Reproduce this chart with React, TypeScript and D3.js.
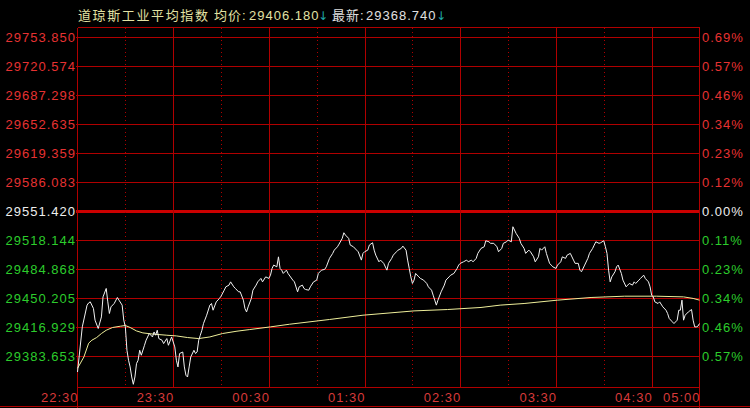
import React from "react";
import * as d3 from "d3";

const W = 750;
const H = 408;
const PREV_CLOSE = 29551.42;
const STEP = 33.738;

const leftLabels = ["29753.850","29720.574","29687.298","29652.635","29619.359","29586.083","29551.420","29518.144","29484.868","29450.205","29416.929","29383.653"];
const rightLabels = ["0.69%","0.57%","0.46%","0.34%","0.23%","0.12%","0.00%","0.11%","0.23%","0.34%","0.46%","0.57%"];
const timeLabels = ["22:30","23:30","00:30","01:30","02:30","03:30","04:30","05:00"];
const timeLabelMinutes = [0, 60, 120, 180, 240, 300, 360, 390];
const solidMinutes = [60, 120, 180, 240, 300, 360];
const dottedMinutes = [30, 90, 150, 210, 270, 330];

const priceMinutes = [
  0,3,6,7,8,10,11,13,15,16,18,19,20,21,23,25,26,28,29,30,31,32,33,34,35,36,37,38,39,40,42,43,45,47,48,49,50,51,53,54,56,57,59,61,62,63,64,66,67,68,69,70,71,73,74,75,76,77,78,79,81,83,84,85,87,89,90,92,93,95,96,98,99,101,102,104,105,106,107,109,110,112,113,115,116,118,120,121,122,123,125,126,127,128,129,131,132,
  135,136,138,139,141,142,143,145,146,148,150,151,153,155,156,158,160,161,163,164,166,167,168,170,171,173,175,176,178,179,180,182,183,185,186,187,189,190,192,194,195,197,198,200,201,203,204,206,207,208,209,210,211,212,214,215,217,219,220,222,223,224,225,226,228,230,231,233,234,236,238,239,240,242,244,245,247,248,250,251,253,255,256,258,259,
  261,263,264,266,267,269,270,272,273,275,277,278,280,281,283,284,286,287,289,290,291,293,294,296,297,298,300,301,303,304,306,307,309,311,312,314,315,316,318,320,321,323,324,325,327,328,330,331,332,333,334,335,337,338,339,341,342,344,345,346,348,349,350,352,353,355,356,358,359,360,361,362,364,365,367,369,370,371,373,374,376,377,378,379,380,381,383,385,386,387,388,389,390
];
const priceValues = [
  29364.1,29416.6,29441.9,29444.5,29445.7,29438.0,29424.4,29414.7,29428.2,29451.5,29461.3,29445.7,29432.2,29439.9,29443.8,29450.8,29447.7,29441.9,29424.4,29416.6,29389.4,29377.8,29370.0,29358.3,29349.8,29358.3,29373.9,29377.8,29389.4,29383.6,29395.2,29401.1,29408.9,29404.9,29410.7,29406.9,29412.7,29403.0,29401.1,29397.2,29403.0,29395.2,29404.9,29393.3,29377.8,29370.0,29385.6,29387.4,29370.0,29360.3,29358.3,29370.0,29381.6,29389.4,29385.6,29387.4,29401.1,29406.9,29412.7,29420.5,29430.2,29441.9,29443.8,29436.0,29445.7,29449.7,29452.3,29459.3,29463.2,29465.2,29469.0,29463.2,29461.3,29457.4,29457.4,29447.7,29438.0,29434.0,29439.9,29449.7,29459.3,29465.2,29469.0,29473.0,29469.0,29474.8,29473.0,29476.8,29484.6,29488.5,29486.5,29498.1,29484.6,29482.6,29478.8,29482.6,29478.8,
  29471.0,29469.0,29457.4,29463.2,29465.2,29461.3,29460.1,29459.3,29463.2,29469.0,29471.0,29478.8,29482.6,29483.5,29486.5,29496.3,29502.1,29505.9,29509.8,29512.9,29519.6,29526.1,29523.4,29519.6,29511.8,29509.8,29505.9,29504.0,29494.3,29502.1,29504.0,29505.9,29511.8,29514.5,29505.9,29500.1,29492.3,29494.3,29490.5,29482.6,29490.5,29496.3,29500.1,29504.0,29505.9,29507.9,29510.6,29505.9,29494.3,29484.6,29474.8,29467.1,29471.0,29478.8,29474.8,29473.0,29471.0,29467.1,29463.2,29459.3,29453.5,29447.7,29441.9,29447.7,29457.4,29465.2,29471.0,29474.8,29476.8,29478.8,29484.6,29488.5,29490.5,29492.3,29494.3,29492.3,29494.3,29492.3,29496.3,29502.1,29507.9,29509.8,29516.8,29515.6,29513.8,
  29513.8,29509.8,29504.0,29507.9,29513.8,29515.6,29517.6,29515.6,29533.1,29525.4,29519.6,29513.8,29507.9,29502.1,29505.9,29504.0,29498.1,29492.3,29498.1,29507.9,29505.9,29509.8,29502.1,29490.5,29488.5,29486.5,29484.6,29488.5,29492.3,29498.1,29496.3,29500.1,29502.1,29494.3,29490.5,29490.5,29482.6,29480.7,29488.5,29496.3,29502.1,29507.9,29511.8,29515.6,29513.8,29514.5,29516.8,29509.8,29502.1,29482.6,29469.0,29474.8,29480.7,29486.5,29488.5,29478.8,29471.0,29463.2,29465.2,29467.1,29465.2,29469.0,29467.1,29471.0,29473.0,29476.8,29473.0,29469.0,29463.2,29453.5,29451.5,29445.7,29443.8,29445.7,29439.9,29436.0,29432.2,29426.4,29422.4,29420.5,29424.4,29436.0,29436.0,29447.7,29424.4,29430.2,29434.0,29436.8,29424.4,29416.6,29416.6,29417.4,29420.5
];

const avgMinutes = [0,4,7,9,12,15,18,22,27,30,33,37,41,48,56,62,69,76,83,91,100,108,121,133,158,179,211,232,253,265,280,301,322,343,363,380,386,390];
const avgValues = [29368.4,29381.6,29397.6,29401.1,29404.2,29408.9,29412.7,29415.9,29417.4,29418.2,29415.9,29411.9,29409.6,29408.1,29406.9,29406.1,29404.2,29403.0,29404.9,29408.9,29411.6,29413.5,29416.6,29419.7,29425.2,29430.2,29435.2,29436.8,29439.2,29441.9,29443.8,29447.7,29450.8,29452.3,29452.3,29451.5,29449.7,29447.7];

const FONT = "'Liberation Sans', Arial, 'Noto Sans CJK SC', sans-serif";
const RED_TXT = "#e63232";
const GREEN_TXT = "#2ccc2c";
const WHITE_TXT = "#eeeeee";
const GRID = "#b00000";

export default function App() {
  const left = 77.5, right = 699.5, top = 27.5, bottom = 387.5;
  const x = d3.scaleLinear().domain([0, 390]).range([left, right]);
  const y = d3.scaleLinear().domain([PREV_CLOSE - 6 * STEP, PREV_CLOSE + 6 * STEP]).range([385, 37]);

  const priceData = priceMinutes.map((m, i) => [m, priceValues[i]] as [number, number]);
  const avgData = avgMinutes.map((m, i) => [m, avgValues[i]] as [number, number]);
  const line = d3.line<[number, number]>().x(d => x(d[0])).y(d => y(d[1]));

  const gridYs = leftLabels.map((_, i) => y(PREV_CLOSE + (6 - i) * STEP));
  const px = (v: number) => Math.round(v) + 0.5;

  return (
    <div style={{ position: "absolute", left: 0, top: 0, width: W, height: H, background: "#000" }}>
      <svg width={W} height={H} style={{ display: "block" }} fontFamily={FONT} shapeRendering="crispEdges">
        <rect x={0} y={0} width={W} height={H} fill="#000" />
        {/* title */}
        <text y={19.5} fontSize={13} letterSpacing={1} shapeRendering="auto">
          <tspan x={78} fill="#e2e2a4" textLength={131} lengthAdjust="spacing">道琼斯工业平均指数</tspan>
          <tspan x={214} fill="#e2e2a4">均价:</tspan>
          <tspan x={249} fill="#e2e2a4">29406.180</tspan>
          <tspan x={318} fill="#1fa6a6" fontFamily="'DejaVu Sans'" fontSize={12}>↓</tspan>
          <tspan x={332} fill="#e0e0e0">最新:</tspan>
          <tspan x={366} fill="#e0e0e0">29368.740</tspan>
          <tspan x={436} fill="#1fa6a6" fontFamily="'DejaVu Sans'" fontSize={12}>↓</tspan>
        </text>

        {/* horizontal grid */}
        {gridYs.map((gy, i) =>
          i === 6 ? (
            <line key={i} x1={left - 2} x2={right} y1={Math.round(gy)} y2={Math.round(gy)} stroke="#cc0000" strokeWidth={3} />
          ) : (
            <line key={i} x1={left - 2} x2={right} y1={px(gy)} y2={px(gy)} stroke={GRID} strokeWidth={1} />
          )
        )}
        {/* vertical grid */}
        {solidMinutes.map(m => (
          <line key={"s" + m} x1={px(x(m))} x2={px(x(m))} y1={top} y2={bottom} stroke={GRID} strokeWidth={1} />
        ))}
        {dottedMinutes.map(m => (
          <line key={"d" + m} x1={px(x(m))} x2={px(x(m))} y1={top} y2={bottom} stroke={GRID} strokeWidth={1} strokeDasharray="1,3" />
        ))}
        {/* frame */}
        <line x1={left} x2={right} y1={top} y2={top} stroke={GRID} />
        <line x1={left} x2={right} y1={bottom} y2={bottom} stroke={GRID} />
        <line x1={left} x2={left} y1={top} y2={H} stroke={GRID} />
        <line x1={right} x2={right} y1={top} y2={H} stroke={GRID} />
        <line x1={0} x2={W} y1={406.5} y2={406.5} stroke={GRID} />

        {/* y labels */}
        {leftLabels.map((t, i) => (
          <text key={"l" + i} x={76} y={gridYs[i]} dy="0.36em" textAnchor="end" fontSize={13} letterSpacing={1} shapeRendering="auto"
            fill={i < 6 ? RED_TXT : i === 6 ? WHITE_TXT : GREEN_TXT}>{t}</text>
        ))}
        {rightLabels.map((t, i) => (
          <text key={"r" + i} x={702} y={gridYs[i]} dy="0.36em" textAnchor="start" fontSize={13} letterSpacing={1} shapeRendering="auto"
            fill={i < 6 ? RED_TXT : i === 6 ? WHITE_TXT : GREEN_TXT}>{t}</text>
        ))}
        {/* time labels */}
        {timeLabels.map((t, i) => (
          <text key={"t" + i} x={x(timeLabelMinutes[i]) + 1} y={402} textAnchor="end" fontSize={13} letterSpacing={1} fill="#d83a3a" shapeRendering="auto">{t}</text>
        ))}

        {/* series */}
        <path d={line(avgData) || ""} fill="none" stroke="#eeee9a" strokeWidth={1} shapeRendering="auto" />
        <path d={line(priceData) || ""} fill="none" stroke="#f2f2f2" strokeWidth={1} shapeRendering="auto" />
      </svg>
    </div>
  );
}
